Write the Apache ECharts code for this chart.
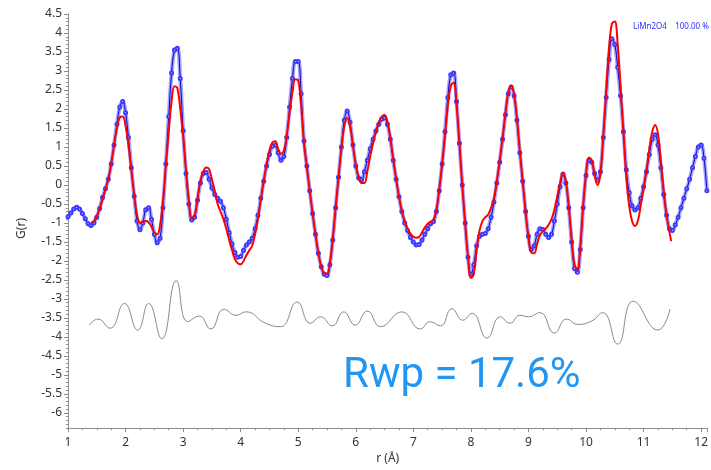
<!DOCTYPE html>
<html>
<head>
<meta charset="utf-8">
<title>PDF fit</title>
<script src="https://cdn.jsdelivr.net/npm/echarts@6/dist/echarts.min.js"></script>
<style>
html,body{margin:0;padding:0;background:#fff;}
#chart{width:711px;height:470px;}
</style>
</head>
<body>
<div id="chart"></div>
<script>
// Observed G(r): [r (Å), G]
const observed = [
[1.00,-0.84],[1.05,-0.74],[1.10,-0.63],[1.15,-0.59],[1.20,-0.63],[1.25,-0.75],[1.30,-0.89],[1.35,-1.02],[1.40,-1.07],[1.45,-1.00],
[1.50,-0.85],[1.55,-0.62],[1.60,-0.33],[1.65,-0.10],[1.70,0.15],[1.75,0.55],[1.80,1.05],[1.85,1.60],[1.90,2.05],[1.95,2.20],
[2.00,1.90],[2.05,1.25],[2.10,0.45],[2.15,-0.30],[2.20,-0.95],[2.25,-1.18],[2.30,-1.00],[2.35,-0.65],[2.40,-0.60],[2.45,-0.90],
[2.50,-1.30],[2.55,-1.52],[2.60,-1.40],[2.65,-0.60],[2.70,0.55],[2.75,1.80],[2.80,2.95],[2.85,3.55],[2.90,3.60],[2.95,2.80],
[3.00,1.43],[3.05,0.30],[3.10,-0.50],[3.15,-0.92],[3.20,-0.85],[3.25,-0.40],[3.30,0.05],[3.35,0.30],[3.40,0.33],[3.45,0.15],
[3.50,-0.08],[3.55,-0.25],[3.60,-0.35],[3.65,-0.43],[3.70,-0.60],[3.75,-0.90],[3.80,-1.25],[3.85,-1.55],[3.90,-1.78],[3.95,-1.90],
[4.00,-1.88],[4.05,-1.72],[4.10,-1.58],[4.15,-1.50],[4.20,-1.40],[4.25,-1.15],[4.30,-0.80],[4.35,-0.35],[4.40,0.10],[4.45,0.50],
[4.50,0.80],[4.55,1.02],[4.60,1.05],[4.65,0.85],[4.70,0.65],[4.75,0.75],[4.80,1.25],[4.85,2.05],[4.90,2.80],[4.95,3.25],
[5.00,3.25],[5.05,2.40],[5.10,1.16],[5.15,0.50],[5.20,-0.15],[5.25,-0.75],[5.30,-1.30],[5.35,-1.80],[5.40,-2.15],[5.45,-2.35],
[5.50,-2.38],[5.55,-2.10],[5.60,-1.45],[5.65,-0.60],[5.70,0.20],[5.75,1.00],[5.80,1.70],[5.85,1.95],[5.90,1.65],[5.95,1.05],
[6.00,0.50],[6.05,0.18],[6.10,0.14],[6.15,0.35],[6.20,0.65],[6.25,0.95],[6.30,1.20],[6.35,1.42],[6.40,1.60],[6.45,1.73],
[6.50,1.76],[6.55,1.60],[6.60,1.20],[6.65,0.65],[6.70,0.15],[6.75,-0.31],[6.80,-0.70],[6.85,-1.00],[6.90,-1.20],[6.95,-1.38],
[7.00,-1.50],[7.05,-1.58],[7.10,-1.57],[7.15,-1.45],[7.20,-1.30],[7.25,-1.15],[7.30,-1.02],[7.35,-0.96],[7.40,-0.70],[7.45,-0.15],
[7.50,0.55],[7.55,1.40],[7.60,2.30],[7.65,2.90],[7.70,2.95],[7.75,2.20],[7.80,1.10],[7.85,0.00],[7.90,-1.00],[7.95,-1.90],
[8.00,-2.35],[8.05,-2.10],[8.10,-1.60],[8.15,-1.35],[8.20,-1.30],[8.25,-1.28],[8.30,-1.15],[8.35,-0.85],[8.40,-0.45],[8.45,0.05],
[8.50,0.60],[8.55,1.20],[8.60,1.85],[8.65,2.40],[8.70,2.58],[8.75,2.35],[8.80,1.70],[8.85,0.85],[8.90,0.10],[8.95,-0.70],
[9.00,-1.35],[9.05,-1.70],[9.10,-1.60],[9.15,-1.30],[9.20,-1.15],[9.25,-1.17],[9.30,-1.30],[9.35,-1.38],[9.40,-1.30],[9.45,-0.95],
[9.50,-0.50],[9.55,-0.05],[9.60,0.28],[9.65,0.05],[9.70,-0.60],[9.75,-1.50],[9.80,-2.20],[9.85,-2.30],[9.90,-1.70],[9.95,-0.60],
[10.00,0.25],[10.05,0.65],[10.10,0.60],[10.15,0.30],[10.20,0.13],[10.25,0.35],[10.30,1.25],[10.35,2.30],[10.40,3.30],[10.45,3.85],
[10.50,3.70],[10.55,3.10],[10.60,2.35],[10.65,1.40],[10.70,0.40],[10.75,-0.20],[10.80,-0.55],[10.85,-0.66],[10.90,-0.60],[10.95,-0.35],
[11.00,-0.05],[11.05,0.35],[11.10,0.80],[11.15,1.20],[11.20,1.32],[11.25,1.05],[11.30,0.45],[11.35,-0.25],[11.40,-0.80],[11.45,-1.15],
[11.50,-1.20],[11.55,-1.05],[11.60,-0.85],[11.65,-0.60],[11.70,-0.35],[11.75,-0.10],[11.80,0.15],[11.85,0.45],[11.90,0.75],[11.95,1.00],
[12.00,1.05],[12.05,0.70],[12.10,-0.15]
];

// Calculated G(r) of the LiMn2O4 model
const calculated = [
[1.40,-1.00],[1.45,-0.95],[1.50,-0.82],[1.55,-0.62],[1.60,-0.38],[1.65,-0.12],[1.70,0.15],[1.75,0.55],[1.80,1.05],[1.85,1.50],
[1.90,1.78],[1.95,1.80],[2.00,1.55],[2.05,1.05],[2.10,0.40],[2.15,-0.25],[2.20,-0.80],[2.25,-1.00],[2.30,-0.97],[2.35,-0.95],
[2.40,-0.98],[2.45,-1.10],[2.50,-1.25],[2.55,-1.30],[2.60,-1.05],[2.65,-0.40],[2.70,0.50],[2.75,1.40],[2.80,2.20],[2.85,2.60],
[2.90,2.55],[2.95,2.00],[3.00,1.30],[3.05,0.40],[3.10,-0.40],[3.15,-0.88],[3.20,-0.80],[3.25,-0.35],[3.30,0.10],[3.35,0.35],
[3.40,0.46],[3.45,0.42],[3.50,0.15],[3.55,-0.15],[3.60,-0.50],[3.65,-0.70],[3.70,-0.90],[3.75,-1.15],[3.80,-1.45],[3.85,-1.72],
[3.90,-1.95],[3.95,-2.06],[4.00,-2.09],[4.05,-2.00],[4.10,-1.85],[4.15,-1.72],[4.20,-1.60],[4.25,-1.30],[4.30,-0.90],[4.35,-0.40],
[4.40,0.10],[4.45,0.55],[4.50,0.90],[4.55,1.12],[4.60,1.15],[4.65,0.95],[4.70,0.82],[4.75,0.90],[4.80,1.30],[4.85,1.90],
[4.90,2.45],[4.95,2.78],[5.00,2.75],[5.05,2.10],[5.10,1.10],[5.15,0.45],[5.20,-0.15],[5.25,-0.75],[5.30,-1.30],[5.35,-1.80],
[5.40,-2.15],[5.45,-2.32],[5.50,-2.33],[5.55,-2.05],[5.60,-1.40],[5.65,-0.60],[5.70,0.20],[5.75,0.95],[5.80,1.55],[5.85,1.76],
[5.90,1.55],[5.95,1.05],[6.00,0.55],[6.05,0.20],[6.10,0.05],[6.15,0.05],[6.20,0.35],[6.25,0.75],[6.30,1.10],[6.35,1.40],
[6.40,1.65],[6.45,1.80],[6.50,1.84],[6.55,1.65],[6.60,1.25],[6.65,0.70],[6.70,0.18],[6.75,-0.30],[6.80,-0.68],[6.85,-0.95],
[6.90,-1.15],[6.95,-1.28],[7.00,-1.36],[7.05,-1.39],[7.10,-1.37],[7.15,-1.25],[7.20,-1.12],[7.25,-1.02],[7.30,-0.97],[7.35,-0.92],
[7.40,-0.65],[7.45,-0.10],[7.50,0.55],[7.55,1.30],[7.60,2.10],[7.65,2.60],[7.70,2.70],[7.75,2.10],[7.80,1.10],[7.85,0.00],
[7.90,-1.00],[7.95,-1.90],[8.00,-2.45],[8.05,-2.35],[8.10,-1.70],[8.15,-1.20],[8.20,-0.95],[8.25,-0.85],[8.30,-0.78],[8.35,-0.60],
[8.40,-0.35],[8.45,0.10],[8.50,0.65],[8.55,1.25],[8.60,1.90],[8.65,2.45],[8.70,2.62],[8.75,2.40],[8.80,1.75],[8.85,0.90],
[8.90,0.10],[8.95,-0.70],[9.00,-1.40],[9.05,-1.78],[9.10,-1.80],[9.15,-1.55],[9.20,-1.32],[9.25,-1.22],[9.30,-1.15],[9.35,-1.05],
[9.40,-0.90],[9.45,-0.65],[9.50,-0.30],[9.55,0.05],[9.60,0.33],[9.65,0.10],[9.70,-0.55],[9.75,-1.40],[9.80,-2.10],[9.85,-2.22],
[9.90,-1.60],[9.95,-0.55],[10.00,0.30],[10.05,0.72],[10.10,0.65],[10.15,0.25],[10.20,0.00],[10.25,0.30],[10.30,1.30],[10.35,2.50],
[10.40,3.60],[10.45,4.25],[10.50,4.30],[10.55,3.70],[10.60,2.60],[10.65,1.40],[10.70,0.20],[10.75,-0.55],[10.80,-0.95],[10.85,-1.08],
[10.90,-0.95],[10.95,-0.55],[11.00,-0.10],[11.05,0.40],[11.10,0.95],[11.15,1.40],[11.20,1.58],[11.25,1.35],[11.30,0.65],[11.35,-0.15],
[11.40,-0.80],[11.45,-1.25],[11.48,-1.48]
];

// Difference curve (observed - calculated), shifted down
const difference = [
[1.37,-3.69],[1.52,-3.53],[1.73,-3.77],[1.98,-3.12],[2.21,-3.82],[2.40,-3.12],[2.63,-4.05],[2.88,-2.52],[3.08,-3.60],[3.28,-3.45],
[3.48,-3.79],[3.71,-3.27],[3.92,-3.43],[4.09,-3.34],[4.43,-3.64],[4.69,-3.73],[4.98,-3.08],[5.21,-3.64],[5.39,-3.47],[5.59,-3.71],
[5.79,-3.34],[5.99,-3.69],[6.20,-3.32],[6.43,-3.73],[6.80,-3.34],[7.12,-3.79],[7.29,-3.60],[7.47,-3.71],[7.67,-3.26],[7.86,-3.56],
[8.02,-3.38],[8.28,-4.03],[8.51,-3.47],[8.68,-3.64],[8.85,-3.43],[9.00,-3.47],[9.20,-3.36],[9.45,-3.90],[9.66,-3.53],[9.86,-3.67],
[10.10,-3.58],[10.29,-3.36],[10.55,-4.19],[10.82,-3.06],[11.25,-3.82],[11.46,-3.27]
];

// Axis labels
const yLabelValues = [-6,-5.5,-5,-4.5,-4,-3.5,-3,-2.5,-2,-1.5,-1,-0.5,0,0.5,1,1.5,2,2.5,3,3.5,4,4.5];
const phaseLabel = 'LiMn2O4    100.00 %';
const rwpLabel = 'Rwp = 17.6%';

const Y_MIN = -6.4, Y_MAX = 4.5;
const yMinorValues = [];
for (let k = Math.ceil(Y_MIN * 10); k <= Y_MAX * 10; k++) yMinorValues.push(k / 10);

const axisGrey = '#8c8c8c';
const labelFont = { color: '#333', fontSize: 12, fontFamily: 'Noto Sans' };

const chart = echarts.init(document.getElementById('chart'), null, { renderer: 'canvas' });
chart.setOption({
  animation: false,
  backgroundColor: '#fff',
  grid: { left: 68, right: 2, top: 14, bottom: 36 },
  xAxis: {
    type: 'value', min: 1, max: 12.11, interval: 1,
    name: 'r (Å)', nameLocation: 'middle', nameGap: 23,
    nameTextStyle: { color: '#333', fontSize: 12, fontFamily: 'Noto Sans' },
    axisLine: { onZero: false, lineStyle: { color: axisGrey } },
    axisTick: { length: 4, lineStyle: { color: axisGrey } },
    minorTick: { show: true, splitNumber: 4, length: 2, lineStyle: { color: axisGrey } },
    axisLabel: Object.assign({ margin: 8, showMaxLabel: false }, labelFont),
    splitLine: { show: false }
  },
  yAxis: [{
    type: 'value', min: Y_MIN, max: Y_MAX,
    axisLine: { show: true, onZero: false, lineStyle: { color: axisGrey } },
    axisTick: { length: 4, customValues: yLabelValues, lineStyle: { color: axisGrey } },
    axisLabel: Object.assign({ margin: 6, customValues: yLabelValues }, labelFont),
    splitLine: { show: false }
  }, {
    type: 'value', min: Y_MIN, max: Y_MAX, position: 'left',
    axisLine: { show: false, onZero: false },
    axisTick: { show: true, length: 2, customValues: yMinorValues, lineStyle: { color: axisGrey } },
    axisLabel: { show: false },
    splitLine: { show: false }
  }],
  series: [{
    // soft band under the observed points
    name: 'observed band', type: 'line', data: observed, smooth: 0.4,
    symbol: 'none', lineStyle: { color: 'rgba(90,90,255,0.55)', width: 4 },
    silent: true, z: 1
  }, {
    name: 'observed', type: 'line', data: observed, smooth: 0.4,
    symbol: 'emptyCircle', symbolSize: 3, showAllSymbol: true,
    itemStyle: { color: '#3a3aff', borderColor: '#3a3aff', borderWidth: 0.8 },
    lineStyle: { color: '#0000c8', width: 1 },
    z: 2
  }, {
    name: 'calculated', type: 'line', data: calculated, smooth: 0.4,
    symbol: 'none', lineStyle: { color: '#ff0000', width: 2 }, z: 3
  }, {
    name: 'difference', type: 'line', data: difference, smooth: 0.5,
    symbol: 'none', lineStyle: { color: '#8a8a8a', width: 1 }, z: 2
  }],
  graphic: [{
    type: 'text', left: 16, top: 218, rotation: Math.PI / 2,
    style: { text: 'G(r)', fill: '#333', font: '12px "Noto Sans"' }
  }, {
    type: 'text', left: 633, top: 23,
    style: { text: phaseLabel, fill: '#2f2fff', font: '8px "Noto Sans"' }
  }, {
    type: 'text', left: 343, top: 355,
    style: { text: rwpLabel, fill: '#2196f3', font: '42px Roboto' }
  }]
});
</script>
</body>
</html>
